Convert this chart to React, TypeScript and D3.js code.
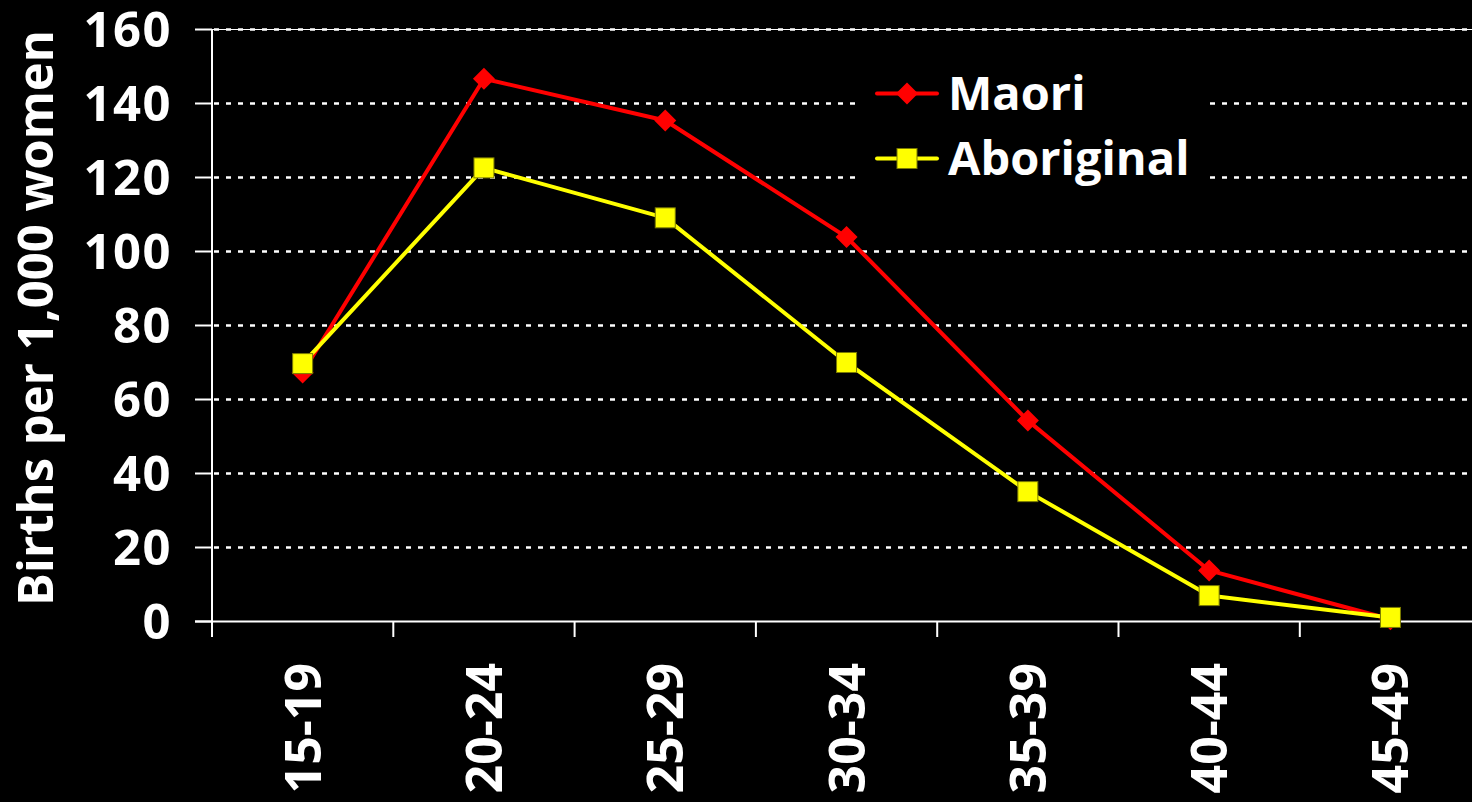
import React from "react";
import * as d3 from "d3";

const categories = ["15-19", "20-24", "25-29", "30-34", "35-39", "40-44", "45-49"];
const maori = [67.3, 146.7, 135.4, 103.9, 54.3, 13.8, 0.6];
const aboriginal = [69.7, 122.6, 109.1, 70.0, 35.1, 7.0, 1.1];
const yTicks = [0, 20, 40, 60, 80, 100, 120, 140, 160];
const seriesNames = ["Maori", "Aboriginal"];

const W = 1472;
const H = 802;
const FONT = "'Open Sans', 'Noto Sans', Arial, sans-serif";

export default function App() {
  const x = d3.scaleBand<string>().domain(categories).range([212, 212 + 7 * 181.3]);
  const y = d3.scaleLinear().domain([0, 160]).range([621.5, 29.5]);
  const cx = (c: string) => (x(c) as number) + x.bandwidth() / 2;

  const line = d3
    .line<number>()
    .x((_, i) => cx(categories[i]))
    .y((d) => y(d));

  const diamond = (px: number, py: number, r = 11) =>
    `M${px},${py - r}L${px + r},${py}L${px},${py + r}L${px - r},${py}Z`;

  const boundaries = categories.map((c) => x(c) as number).concat([212 + 7 * 181.3]);

  return (
    <svg
      width={W}
      height={H}
      style={{ position: "fixed", left: 0, top: 0, background: "#000", display: "block" }}
      fontFamily={FONT}
    >
      <rect x={0} y={0} width={W} height={H} fill="#000" />
      {/* gridlines */}
      <line x1={212} x2={W} y1={y(160)} y2={y(160)} stroke="#fff" strokeWidth={1.2} />
      {yTicks
        .filter((t) => t > 0)
        .map((t) => (
          <line
            key={"g" + t}
            x1={214}
            x2={W}
            y1={y(t)}
            y2={y(t)}
            stroke="#fff"
            strokeWidth={2.5}
            strokeDasharray="5 7"
          />
        ))}
      {/* legend background */}
      <rect x={862} y={58} width={344} height={142} fill="#000" />

      {/* axes */}
      <line x1={212} x2={212} y1={y(160)} y2={y(0)} stroke="#fff" strokeWidth={2} />
      <line x1={195} x2={W} y1={y(0)} y2={y(0)} stroke="#fff" strokeWidth={2} />
      {yTicks.map((t) => (
        <g key={"yt" + t}>
          <line x1={195} x2={212} y1={y(t)} y2={y(t)} stroke="#fff" strokeWidth={2} />
          <text
            x={172}
            y={y(t)}
            dy="0.36em"
            textAnchor="end"
            fill="#fff"
            fontSize={49}
            fontWeight="bold"
            letterSpacing={1.5}
          >
            {t}
          </text>
        </g>
      ))}
      {boundaries.map((b, i) => (
        <line key={"xt" + i} x1={b} x2={b} y1={y(0)} y2={637} stroke="#fff" strokeWidth={2} />
      ))}
      {categories.map((c) => (
        <text
          key={"xl" + c}
          transform={`translate(${cx(c) + 18},663) rotate(-90)`}
          textAnchor="end"
          fill="#fff"
          fontSize={50}
          fontWeight="bold"
        >
          {c}
        </text>
      ))}
      <text
        transform={`translate(53,318) rotate(-90)`}
        textAnchor="middle"
        fill="#fff"
        fontSize={49}
        fontWeight="bold"
      >
        Births per 1,000 women
      </text>

      {/* Maori series */}
      <path d={line(maori) || ""} fill="none" stroke="#ff0000" strokeWidth={4} strokeLinejoin="round" />
      {maori.map((v, i) => (
        <path key={"m" + i} d={diamond(cx(categories[i]), y(v))} fill="#ff0000" />
      ))}

      {/* Aboriginal series */}
      <path d={line(aboriginal) || ""} fill="none" stroke="#ffff00" strokeWidth={4} strokeLinejoin="round" />
      {aboriginal.map((v, i) => (
        <rect
          key={"a" + i}
          x={cx(categories[i]) - 10}
          y={y(v) - 10}
          width={20}
          height={20}
          fill="#ffff00"
          stroke="#7a7a00"
          strokeWidth={1}
        />
      ))}

      {/* legend */}
      <g>
        <line x1={877} x2={937} y1={93.5} y2={93.5} stroke="#ff0000" strokeWidth={4} strokeLinecap="round" />
        <path d={diamond(907, 93.5)} fill="#ff0000" />
        <text x={948} y={93.5} dy="0.36em" fill="#fff" fontSize={47} fontWeight="bold">
          {seriesNames[0]}
        </text>
        <line x1={877} x2={937} y1={158.5} y2={158.5} stroke="#ffff00" strokeWidth={4} strokeLinecap="round" />
        <rect x={897} y={148.5} width={20} height={20} fill="#ffff00" stroke="#7a7a00" strokeWidth={1} />
        <text x={948} y={158.5} dy="0.36em" fill="#fff" fontSize={47} fontWeight="bold">
          {seriesNames[1]}
        </text>
      </g>
    </svg>
  );
}
